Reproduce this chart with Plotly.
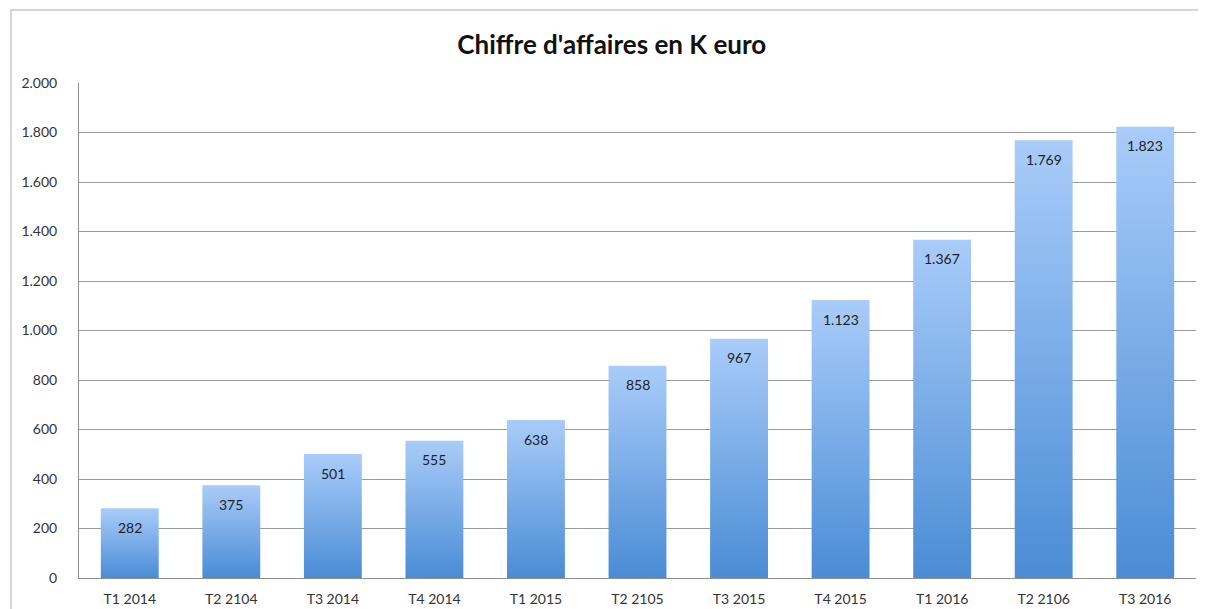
import plotly.graph_objects as go

categories = ["T1 2014", "T2 2104", "T3 2014", "T4 2014", "T1 2015", "T2 2105",
              "T3 2015", "T4 2015", "T1 2016", "T2 2106", "T3 2016"]
values = [282, 375, 501, 555, 638, 858, 967, 1123, 1367, 1769, 1823]
y_ticks = [0, 200, 400, 600, 800, 1000, 1200, 1400, 1600, 1800, 2000]

BAR_W = 0.57
TOP_COLOR = "#a9ccf9"
BOTTOM_COLOR = "#4a8cd5"
FONT = "Lato, Open Sans, sans-serif"

fig = go.Figure()

for i, (cat, v) in enumerate(zip(categories, values)):
    x0, x1 = i - BAR_W / 2, i + BAR_W / 2
    fig.add_trace(go.Scatter(
        x=[x0, x1, x1, x0, x0],
        y=[0, 0, v, v, 0],
        mode="lines",
        line=dict(width=0),
        fill="toself",
        fillgradient=dict(type="vertical",
                          colorscale=[[0, BOTTOM_COLOR], [1, TOP_COLOR]],
                          start=0, stop=v),
        hoverinfo="skip",
        showlegend=False,
    ))

annotations = [
    dict(x=i, y=v, xref="x", yref="y",
         text=f"{v:,}".replace(",", "."), showarrow=False,
         yanchor="middle", yshift=-19,
         font=dict(family=FONT, size=14, color="#222222"))
    for i, v in enumerate(values)
]

fig.update_layout(
    width=1198, height=601,
    margin=dict(l=71, r=10, t=75, b=31),
    paper_bgcolor="white", plot_bgcolor="white",
    separators=",.",
    title=dict(text="<b>Chiffre d'affaires en K euro</b>",
               x=0.504, xanchor="center", y=0.938, yanchor="middle",
               font=dict(family=FONT, size=26, color="#111111")),
    font=dict(family=FONT, size=14, color="#333333"),
    xaxis=dict(range=[-0.5, len(categories) - 0.5],
               tickvals=list(range(len(categories))), ticktext=categories,
               showgrid=False, zeroline=False, automargin=False,
               showline=True, linecolor="#8f8f8f", linewidth=1,
               ticks="outside", ticklen=8, tickcolor="rgba(0,0,0,0)",
               tickfont=dict(family=FONT, size=14, color="#333333")),
    yaxis=dict(range=[0, 2000], tickvals=y_ticks, tickformat=",d",
               showgrid=True, gridcolor="#9a9a9a", gridwidth=1,
               zeroline=False, automargin=False,
               showline=True, linecolor="#8f8f8f", linewidth=1,
               ticks="outside", ticklen=18, tickcolor="rgba(0,0,0,0)",
               tickfont=dict(family=FONT, size=14, color="#333333")),
    annotations=annotations,
    shapes=[dict(type="rect", xref="paper", yref="paper",
                 x0=(3 - 71) / 1117, x1=1.2, y0=-0.2, y1=(570 - 2) / 495,
                 line=dict(color="#c8c8c8", width=1.5), fillcolor="rgba(0,0,0,0)",
                 layer="below")],
)

fig.write_html("out.html")
